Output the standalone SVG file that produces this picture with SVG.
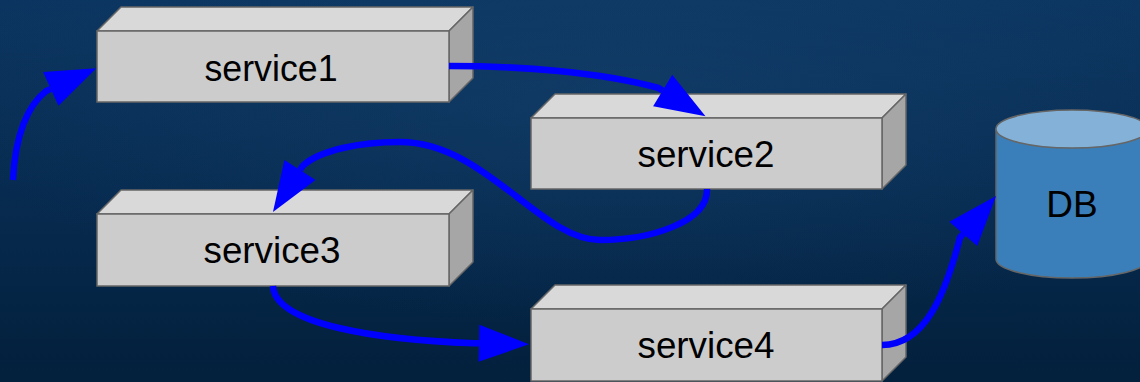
<svg xmlns="http://www.w3.org/2000/svg" width="1140" height="382" viewBox="0 0 1140 382">
  <defs>
    <linearGradient id="bg" x1="0" y1="0" x2="0" y2="1">
      <stop offset="0" stop-color="#0b3560"/>
      <stop offset="0.5" stop-color="#072b50"/>
      <stop offset="1" stop-color="#03203c"/>
    </linearGradient>
    <radialGradient id="glow" cx="0.55" cy="0.25" r="0.6">
      <stop offset="0" stop-color="#1a4a78" stop-opacity="0.4"/>
      <stop offset="1" stop-color="#1a4a78" stop-opacity="0"/>
    </radialGradient>
    <marker id="head" markerUnits="userSpaceOnUse" markerWidth="52" markerHeight="38" refX="0" refY="18.5" orient="auto" overflow="visible">
      <path d="M0,0 L50,18.5 L0,37 Z" fill="#0000ff"/>
    </marker>
    <style>
      .front { fill: #cccccc; stroke: #666666; stroke-width: 1.5; }
      .top { fill: #d9d9d9; stroke: #666666; stroke-width: 1.5; stroke-linejoin: round; }
      .side { fill: #a6a6a6; stroke: #666666; stroke-width: 1.5; stroke-linejoin: round; }
      .label { font-family: "Liberation Sans", Arial, sans-serif; font-size: 37px; fill: #000000; text-anchor: middle; }
      .link { fill: none; stroke: #0000ff; stroke-width: 6.5; stroke-linecap: butt; marker-end: url(#head); }
      .db-body { fill: #3a7fb9; stroke: #666666; stroke-width: 1.5; }
      .db-top { fill: #84b1d7; stroke: #666666; stroke-width: 1.5; }
    </style>
  </defs>

  <!-- backdrop -->
  <rect x="0" y="0" width="1140" height="382" fill="url(#bg)"/>
  <rect x="0" y="0" width="1140" height="382" fill="url(#glow)"/>

  <g id="service1">
    <polygon class="top" points="97,31 121,7 473,7 449,31"/>
    <polygon class="side" points="449,31 473,7 473,78 449,102"/>
    <rect class="front" x="97" y="31" width="352" height="71"/>
    <text class="label" x="271" y="81" textLength="133" lengthAdjust="spacingAndGlyphs">service1</text>
  </g>

  <g id="service2">
    <polygon class="top" points="531,118 555,94 906,94 882,118"/>
    <polygon class="side" points="882,118 906,94 906,165 882,189"/>
    <rect class="front" x="531" y="118" width="351" height="71"/>
    <text class="label" x="706" y="167" textLength="137" lengthAdjust="spacingAndGlyphs">service2</text>
  </g>

  <g id="service3">
    <polygon class="top" points="97,214 121,190 473,190 449,214"/>
    <polygon class="side" points="449,214 473,190 473,262 449,286"/>
    <rect class="front" x="97" y="214" width="352" height="72"/>
    <text class="label" x="272" y="263" textLength="137" lengthAdjust="spacingAndGlyphs">service3</text>
  </g>

  <g id="service4">
    <polygon class="top" points="531,309 555,285 906,285 882,309"/>
    <polygon class="side" points="882,309 906,285 906,357 882,381"/>
    <rect class="front" x="531" y="309" width="351" height="72"/>
    <text class="label" x="706" y="358" textLength="137" lengthAdjust="spacingAndGlyphs">service4</text>
  </g>

  <g id="db">
    <path class="db-body" d="M996,129 L996,259 A76,19 0 0 0 1148,259 L1148,129 Z"/>
    <ellipse class="db-top" cx="1072" cy="129" rx="76" ry="19"/>
    <text class="label" x="1072" y="217">DB</text>
  </g>

  <g id="connectors">
    <!-- incoming request into service1 -->
    <path class="link" d="M13,180 C15,135 28,105 46.2,91 L50.8,88.9"/>
    <!-- service1 to service2 -->
    <path class="link" d="M449,66 C520,66 600,72 658.4,87.9 L662.7,90.5"/>
    <!-- service2 back to service3 -->
    <path class="link" d="M707,189 C708,222 650,240 600,240 C540,240 485,142 400,142 C360,142 320,150 302.7,165.8 L300,170"/>
    <!-- service3 to service4 -->
    <path class="link" d="M273,286 C275,325 380,340 474,343.2 L479,343.3"/>
    <!-- service4 to DB -->
    <path class="link" d="M882,345 C925,345 945,295 960,237.6 L963.3,233.8"/>
  </g>
</svg>
